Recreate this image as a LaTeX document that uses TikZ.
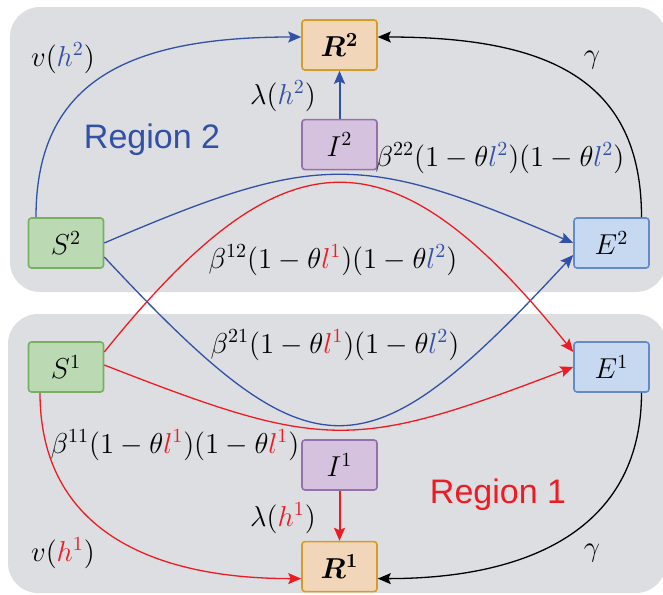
\documentclass[tikz,border=0pt]{standalone}
\usepackage{amsmath}
\usepackage{amssymb}
\usepackage{fontspec}
\usepackage{tikz}
\usetikzlibrary{
  arrows.meta,
  positioning
}
\newfontfamily\regionfont{Liberation Sans}
\definecolor{RegionGray}{RGB}{221,222,225}
\definecolor{RegionBlue}{RGB}{50,80,165}
\definecolor{RegionRed}{RGB}{237,28,36}
\definecolor{SusFill}{RGB}{187,218,180}
\definecolor{SusLine}{RGB}{118,176,96}
\definecolor{ExpFill}{RGB}{198,217,240}
\definecolor{ExpLine}{RGB}{98,139,199}
\definecolor{InfFill}{RGB}{212,194,222}
\definecolor{InfLine}{RGB}{150,112,170}
\definecolor{RecFill}{RGB}{242,214,186}
\definecolor{RecLine}{RGB}{215,155,40}
\newcommand{\hb}[1]{{\color{RegionBlue}#1}}
\newcommand{\hr}[1]{{\color{RegionRed}#1}}
\tikzset{
  compbox/.style={rounded corners=1.5pt,line width=0.8pt,minimum width=37.5pt,minimum height=25pt,inner sep=0pt,font=\fontsize{14.5}{17}\selectfont},
  susnode/.style={compbox,draw=SusLine,fill=SusFill},
  expnode/.style={compbox,draw=ExpLine,fill=ExpFill},
  infnode/.style={compbox,draw=InfLine,fill=InfFill},
  recnode/.style={compbox,draw=RecLine,fill=RecFill},
  region/.style={fill=RegionGray,rounded corners=15pt},
  lbl/.style={font=\fontsize{14}{17}\selectfont,inner sep=0pt},
  regionlbl/.style={font=\regionfont\fontsize{17}{19}\selectfont,inner sep=0pt},
  bluearrow/.style={-{Stealth[length=6.5pt,width=5.5pt,inset=1.2pt]},line width=0.65pt,draw=RegionBlue},
  redarrow/.style={-{Stealth[length=6.5pt,width=5.5pt,inset=1.2pt]},line width=0.65pt,draw=RegionRed},
  blackarrow/.style={-{Stealth[length=6.5pt,width=5.5pt,inset=1.2pt]},line width=0.65pt,draw=black}
}
\begin{document}
\begin{tikzpicture}[x=0.5pt,y=-0.5pt]
\useasboundingbox (0,0) rectangle (663,594);
% the two regions
\fill[region] (10,7) rectangle (666,292);
\fill[region] (8,314) rectangle (666,593);

% region 2
\node[recnode] (r2) at (339.5,45) {$\boldsymbol{R^2}$};
\node[infnode, below=24pt of r2] (i2) {$I^2$};
\node[susnode] (s2) at (66,243) {$S^2$};
\node[expnode] (e2) at (611.5,243) {$E^2$};
% region 1
\node[susnode] (s1) at (66,367) {$S^1$};
\node[expnode] (e1) at (611.5,367) {$E^1$};
\node[infnode] (i1) at (339.5,465) {$I^1$};
\node[recnode, below=25pt of i1] (r1) {$\boldsymbol{R^1}$};

\node[regionlbl, text=RegionBlue] (reg2) at (152,140) {Region 2};
\node[regionlbl, text=RegionRed] (reg1) at (498,495) {Region 1};

% recovery flows
\draw[bluearrow] ([xshift=-15pt]s2.north) .. controls +(0,-138) and +(-170,0) .. ([yshift=4pt]r2.west);
\draw[blackarrow] ([xshift=15pt]e2.north) .. controls +(0,-138) and +(170,0) .. ([yshift=4pt]r2.east);
\draw[bluearrow, line width=1pt] (i2) -- (r2);
\draw[redarrow] ([xshift=-13pt]s1.south) .. controls +(0,130) and +(-160,0) .. ([yshift=-6pt]r1.west);
\draw[blackarrow] ([xshift=15pt]e1.south) .. controls +(0,130) and +(160,0) .. ([yshift=-6pt]r1.east);
\draw[redarrow, line width=1pt] (i1) -- (r1);

% infection flows
\draw[bluearrow] (s2.east) .. controls +(212,-91) and +(-212,-91) .. (e2.west);
\draw[bluearrow] ([yshift=-7pt]s2.east) .. controls +(209,224) and +(-209,226) .. ([yshift=-6pt]e2.west);
\draw[redarrow] ([yshift=7.5pt]s1.east) .. controls +(181,-225) and +(-181,-225) .. ([yshift=7.5pt]e1.west);
\draw[redarrow] ([yshift=1pt]s1.east) .. controls +(220,86) and +(-220,84) .. (e1.west);

% rates
\node[lbl] (vh2) at (63,58) {$v(\hb{h^2})$};
\node[lbl] (g2) at (592,60) {$\gamma$};
\node[lbl] (lh2) at (283,96) {$\lambda(\hb{h^2})$};
\node[lbl] (b22) at (500,158) {$\beta^{22}(1-\theta \hb{l^2})(1-\theta \hb{l^2})$};
\node[lbl] (b12) at (333,260) {$\beta^{12}(1-\theta \hr{l^1})(1-\theta \hb{l^2})$};
\node[lbl] (b21) at (335,345) {$\beta^{21}(1-\theta \hr{l^1})(1-\theta \hb{l^2})$};
\node[lbl] (b11) at (175,445) {$\beta^{11}(1-\theta \hr{l^1})(1-\theta \hr{l^1})$};
\node[lbl] (lh1) at (283,518) {$\lambda(\hr{h^1})$};
\node[lbl] (vh1) at (63,553) {$v(\hr{h^1})$};
\node[lbl] (g1) at (592,553) {$\gamma$};
\end{tikzpicture}
\end{document}
